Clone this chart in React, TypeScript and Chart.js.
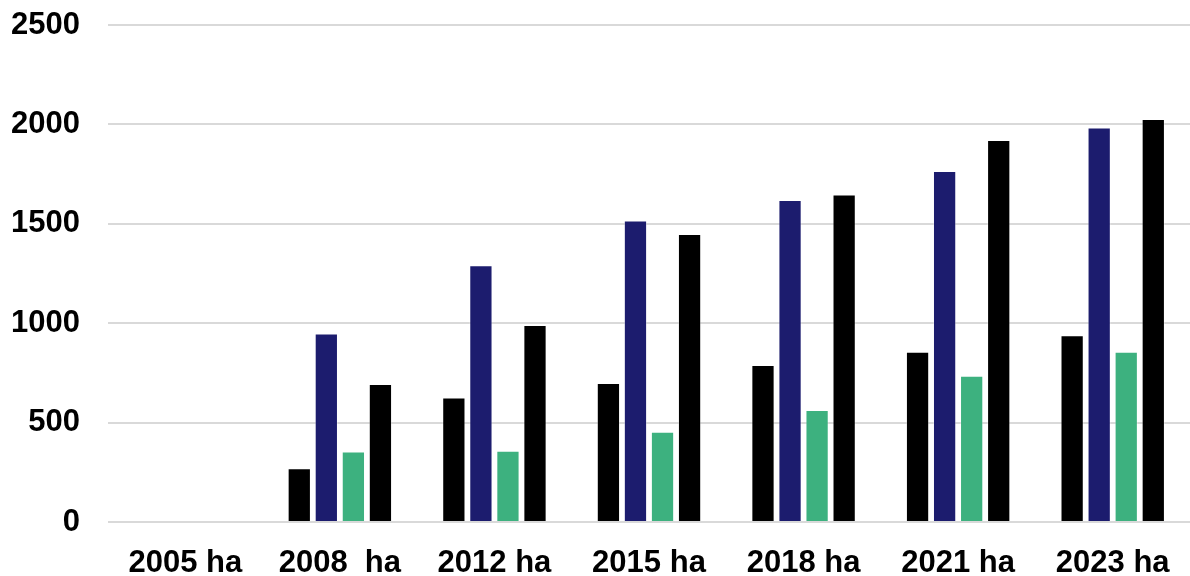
import React, { useEffect, useRef } from "react";
import { Chart, registerables } from "chart.js";

Chart.register(...registerables);

const categories = ["2005 ha", "2008  ha", "2012 ha", "2015 ha", "2018 ha", "2021 ha", "2023 ha"];
const seriesA = [null, 270, 626, 699, 790, 857, 939];
const seriesB = [null, 948, 1291, 1517, 1620, 1766, 1984];
const seriesC = [null, 354, 359, 454, 563, 736, 857];
const seriesD = [null, 694, 991, 1449, 1648, 1922, 2027];
const yTicks = [0, 500, 1000, 1500, 2000, 2500];

const colors = ["#000000", "#1c1c6e", "#3db17f", "#000000"];

export default function App() {
  const ref = useRef<HTMLCanvasElement | null>(null);

  useEffect(() => {
    if (!ref.current) return;
    const font = { family: "'Liberation Sans', Arial, sans-serif", size: 31, weight: "bold" as const };
    const mk = (label: string, data: (number | null)[], i: number) => ({
      label,
      data,
      backgroundColor: colors[i],
      borderColor: "rgba(255,255,255,0.35)",
      borderWidth: 1,
      categoryPercentage: 0.7,
      barPercentage: 0.86,
    });
    const chart = new Chart(ref.current, {
      type: "bar",
      data: {
        labels: categories,
        datasets: [
          mk("A", seriesA, 0),
          mk("B", seriesB, 1),
          mk("C", seriesC, 2),
          mk("D", seriesD, 3),
        ],
      },
      options: {
        animation: false,
        responsive: false,
        maintainAspectRatio: false,
        layout: { padding: { top: 25, right: 0, left: 0, bottom: 0 } },
        plugins: { legend: { display: false }, tooltip: { enabled: false } },
        scales: {
          x: {
            grid: { display: false },
            border: { display: false },
            ticks: { color: "#000", font, padding: 15, maxRotation: 0, autoSkip: false },
            afterFit: (s: any) => { s.height = 54; s.paddingLeft = 0; s.paddingRight = 0; },
          },
          y: {
            min: 0,
            max: 2500,
            afterBuildTicks: (s: any) => { s.ticks = yTicks.map((v) => ({ value: v })); },
            grid: { color: "#d9d9d9", lineWidth: 2, drawTicks: false },
            border: { display: false },
            ticks: { color: "#000", font, padding: 28, callback: (v: any) => String(v) },
            afterFit: (s: any) => { s.width = 108; s.paddingTop = 0; s.paddingBottom = 0; },
          },
        },
      },
    });
    return () => chart.destroy();
  }, []);

  return (
    <div style={{ position: "fixed", left: 0, top: 0, width: 1190, height: 576, background: "#fff" }}>
      <canvas ref={ref} width={1190} height={576} style={{ width: 1190, height: 576, display: "block" }} />
    </div>
  );
}
